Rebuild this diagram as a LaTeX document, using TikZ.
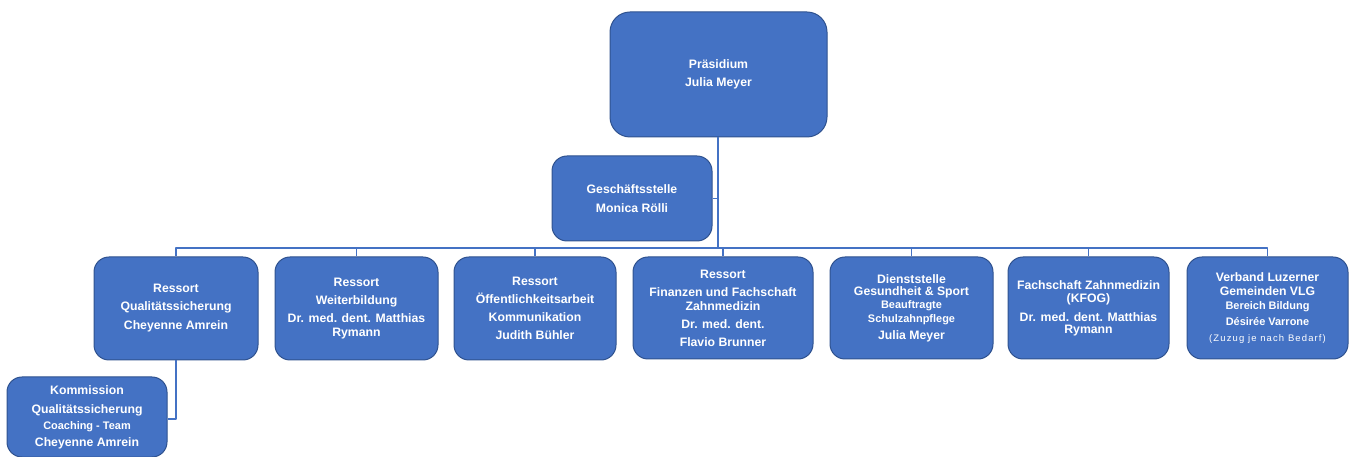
\documentclass[tikz,border=0pt]{standalone}
\usepackage{fontspec}
\setmainfont{Liberation Sans}
\usepackage[x11names, rgb]{xcolor}
\usepackage{tikz}
\usetikzlibrary{arrows,shapes}
\definecolor{boxfill}{HTML}{4472C4}
\definecolor{boxline}{HTML}{2F528F}
\definecolor{linkcol}{HTML}{4472C4}
\tikzset{
  orgbox/.style={draw=boxline, fill=boxfill, line width=1bp, rounded corners=15bp,
    inner sep=0bp, align=center, text=white,
    font=\bfseries\fontsize{12.3}{14}\selectfont},
  link/.style={draw=linkcol, line width=1.5bp}
}
\newcommand{\smalltxt}[1]{{\fontsize{11}{12}\selectfont #1}}
\newcommand{\tinytxt}[1]{{\mdseries\fontsize{9.5}{11}\selectfont\addfontfeature{LetterSpace=12}#1}}
\begin{document}
\begin{tikzpicture}[line join=bevel,x=1bp,y=1bp]
  \useasboundingbox (0bp,0bp) rectangle (1351bp,457bp);
%%
  % Node: Praesidium
  \node [orgbox, rounded corners=20bp, minimum width=217bp, minimum height=125bp] (praes) at (718.5bp,382.5bp)
    {Präsidium\\[4bp]Julia Meyer};
  % Node: Geschaeftsstelle
  \node [orgbox, minimum width=160bp, minimum height=85bp] (gs) at (632bp,258.5bp)
    {Geschäftsstelle\\[5bp]Monica Rölli};
  % Node: Ressort Qualitaetssicherung
  \node [orgbox, minimum width=164bp, minimum height=103bp] (qs) at (176bp,148.5bp)
    {Ressort\\[4bp]Qualitätssicherung\\[5bp]Cheyenne Amrein};
  % Node: Ressort Weiterbildung
  \node [orgbox, minimum width=163bp, minimum height=103bp] (wb) at (356.5bp,148.5bp)
    {Ressort\\[5bp]Weiterbildung\\[4bp]Dr. med. dent. Matthias\\Rymann};
  % Node: Ressort Oeffentlichkeitsarbeit
  \node [orgbox, minimum width=162bp, minimum height=103bp] (oa) at (535bp,148.5bp)
    {Ressort\\[4bp]Öffentlichkeitsarbeit\\[4bp]Kommunikation\\[4bp]Judith Bühler};
  % Node: Ressort Finanzen
  \node [orgbox, minimum width=180bp, minimum height=102bp] (fin) at (723bp,149bp)
    {Ressort\\[4bp]Finanzen und Fachschaft\\Zahnmedizin\\[4bp]Dr. med. dent.\\[4bp]Flavio Brunner};
  % Node: Dienststelle Gesundheit
  \node [orgbox, minimum width=163bp, minimum height=102bp] (dgs) at (911.5bp,149bp)
    {Dienststelle\\[-2bp]Gesundheit \& Sport\\[-1bp]\smalltxt{Beauftragte}\\\smalltxt{Schulzahnpflege}\\[3bp]Julia Meyer};
  % Node: Fachschaft Zahnmedizin
  \node [orgbox, minimum width=161bp, minimum height=102bp] (kfog) at (1088.5bp,149bp)
    {Fachschaft Zahnmedizin\\[-1bp](KFOG)\\[5bp]Dr. med. dent. Matthias\\[-2bp]Rymann};
  % Node: Verband Luzerner Gemeinden
  \node [orgbox, minimum width=161bp, minimum height=102bp] (vlg) at (1267.5bp,149bp)
    {Verband Luzerner\\Gemeinden VLG\\[1bp]\smalltxt{Bereich Bildung}\\[2bp]\smalltxt{Désirée Varrone}\\[2bp]\tinytxt{(Zuzug je nach Bedarf)}};
  % Node: Kommission Qualitaetssicherung
  \node [orgbox, minimum width=160bp, minimum height=80bp] (kom) at (87bp,40bp)
    {Kommission\\[5bp]Qualitätssicherung\\[2bp]\smalltxt{Coaching - Team}\\[3bp]Cheyenne Amrein};
%%
  \coordinate (bus) at (718bp,209bp);
  % Edge: Praesidium -> bus
  \draw [link] (praes.south -| bus) -- (bus);
  % Edge: Geschaeftsstelle -> trunk
  \draw [link] (gs.east) -- (gs.east -| bus);
  % Edge: bus, left to right
  \draw [link] (qs.north) -- (qs.north |- bus) -- (vlg.north |- bus) -- (vlg.north);
  % Edge: bus -> Ressorts
  \draw [link] (wb.north) -- (wb.north |- bus);
  \draw [link] (oa.north) -- (oa.north |- bus);
  \draw [link] (fin.north) -- (fin.north |- bus);
  \draw [link] (dgs.north) -- (dgs.north |- bus);
  \draw [link] (kfog.north) -- (kfog.north |- bus);
  % Edge: Ressort Qualitaetssicherung -> Kommission
  \draw [link] (qs.south) |- ([yshift=-2bp]kom.east);
%
\end{tikzpicture}
\end{document}
